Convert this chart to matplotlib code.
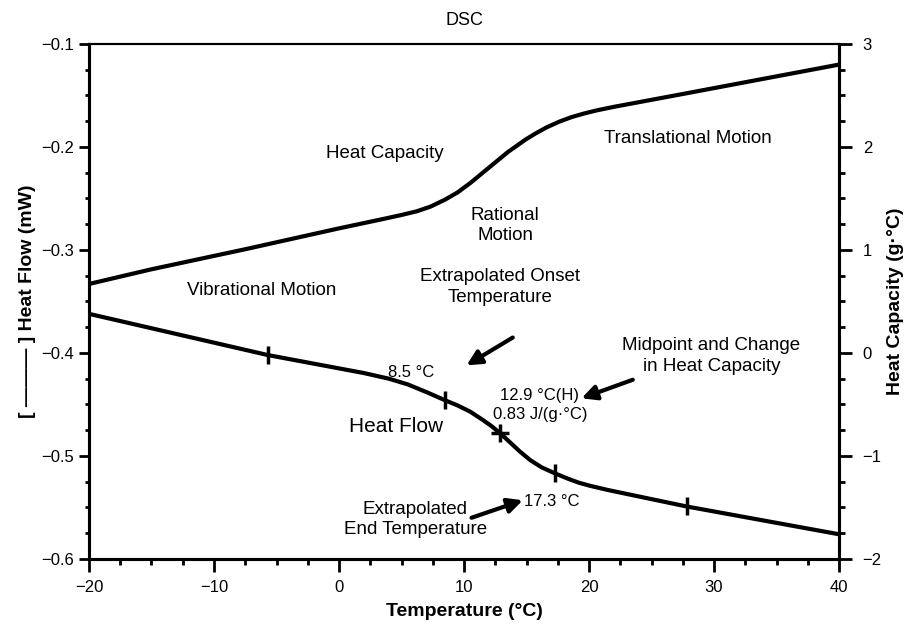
import numpy as np
import matplotlib.pyplot as plt

plt.rcParams['font.family'] = ['Liberation Sans', 'DejaVu Sans']

# heat capacity curve (right axis)
hc_temp = [-20, -15.1, -7.4, 0, 3.5, 5.0, 6.2, 7.3, 8.5, 9.5, 10.5, 11.5, 12.5, 13.5, 14.2, 14.9,
           15.7, 16.6, 17.6, 18.6, 19.6, 20.6, 22.0, 27.3, 40]
hc_val = [0.67, 0.81, 1.01, 1.21, 1.30, 1.34, 1.375, 1.42, 1.49, 1.56, 1.65, 1.75, 1.85, 1.95, 2.01, 2.07,
          2.13, 2.19, 2.245, 2.29, 2.325, 2.355, 2.39, 2.51, 2.80]

# heat flow curve (left axis)
hf_temp = [-20, -5.7, 2.0, 4.0, 5.5, 7.0, 8.5, 9.5, 10.5, 11.5, 12.2, 12.9, 13.7, 14.5, 15.3, 16.2,
           17.3, 18.3, 19.2, 20.1, 21.5, 27.8, 40]
hf_val = [-0.362, -0.402, -0.4195, -0.425, -0.4305, -0.438, -0.446, -0.451, -0.457, -0.465, -0.471, -0.478,
          -0.487, -0.496, -0.504, -0.511, -0.517, -0.522, -0.526, -0.529, -0.533, -0.549, -0.576]

# marks on the heat flow curve
mark_temp = [-5.7, 8.5, 17.3, 27.8]
mark_val = [-0.402, -0.446, -0.517, -0.549]
mid_temp = 12.9
mid_val = -0.478

fig = plt.figure(figsize=(9.1, 6.24), dpi=100)
ax = fig.add_axes([0.0978, 0.1042, 0.8242, 0.8253])
ax2 = ax.twinx()

ax.plot(hf_temp, hf_val, color='black', lw=3, solid_joinstyle='round')
ax.plot(mark_temp, mark_val, ls='none', marker='|', ms=13, mew=2.5, color='black')
ax.plot([mid_temp], [mid_val], ls='none', marker='+', ms=13, mew=2.5, color='black')
ax2.plot(hc_temp, hc_val, color='black', lw=3, solid_joinstyle='round')

ax.set_xlim(-20, 40)
ax.set_ylim(-0.6, -0.1)
ax2.set_ylim(-2, 3)

ax.set_xticks([-20, -10, 0, 10, 20, 30, 40])
ax.set_xticks(np.arange(-20, 40.1, 2.5), minor=True)
ax.set_yticks([-0.6, -0.5, -0.4, -0.3, -0.2, -0.1])
ax.set_yticks(np.arange(-0.6, -0.099, 0.025), minor=True)
ax2.set_yticks([-2, -1, 0, 1, 2, 3])
ax2.set_yticks(np.arange(-2, 3.01, 0.25), minor=True)

for a in (ax, ax2):
    a.tick_params(which='major', direction='out', length=9, width=2, labelsize=12)
    a.tick_params(which='minor', direction='out', length=4.5, width=2)
    for s in ['left', 'right', 'bottom']:
        a.spines[s].set_linewidth(2.2)
    a.spines['top'].set_linewidth(1.5)
ax.tick_params(axis='y', which='major', length=7)
ax.tick_params(axis='y', which='minor', length=3)
ax.tick_params(axis='x', pad=6)
ax2.tick_params(axis='y', pad=8)

ax.set_title('DSC', fontsize=13, pad=14)
ax.set_xlabel('Temperature (°C)', fontsize=14, fontweight='bold', labelpad=6)
ax.set_ylabel('[ ——— ] Heat Flow (mW)', fontsize=14, fontweight='bold', labelpad=4)
ax2.set_ylabel('Heat Capacity (g·°C)', fontsize=14, fontweight='bold', labelpad=4)

fs = 13.5
ax.text(3.7, -0.206, 'Heat Capacity', fontsize=fs, ha='center', va='center')
ax.text(13.3, -0.276, 'Rational\nMotion', fontsize=fs, ha='center', va='center', linespacing=1.25)
ax.text(27.9, -0.192, 'Translational Motion', fontsize=fs, ha='center', va='center')
ax.text(-6.2, -0.339, 'Vibrational Motion', fontsize=fs, ha='center', va='center')
ax.text(12.9, -0.336, 'Extrapolated Onset\nTemperature', fontsize=fs, ha='center', va='center', linespacing=1.25)
ax.text(29.8, -0.403, 'Midpoint and Change\nin Heat Capacity', fontsize=fs, ha='center', va='center', linespacing=1.25)
ax.text(4.6, -0.471, 'Heat Flow', fontsize=15, ha='center', va='center')
ax.text(6.1, -0.562, 'Extrapolated\nEnd Temperature', fontsize=fs, ha='center', va='center', linespacing=1.25)

fs2 = 12
ax.text(5.8, -0.419, '8.5 °C', fontsize=fs2, ha='center', va='center')
ax.text(16.0, -0.441, '12.9 °C(H)', fontsize=fs2, ha='center', va='center')
ax.text(16.1, -0.460, '0.83 J/(g·°C)', fontsize=fs2, ha='center', va='center')
ax.text(17.0, -0.544, '17.3 °C', fontsize=fs2, ha='center', va='center')

arrow = dict(arrowstyle='-|>', lw=3, mutation_scale=22, color='black', shrinkA=0, shrinkB=0)
ax.annotate('', xy=(10.2, -0.412), xytext=(13.9, -0.385), arrowprops=arrow)
ax.annotate('', xy=(19.4, -0.444), xytext=(23.5, -0.426), arrowprops=arrow)
ax.annotate('', xy=(14.7, -0.543), xytext=(10.6, -0.560), arrowprops=arrow)

fig.savefig('out.png', dpi=100)
